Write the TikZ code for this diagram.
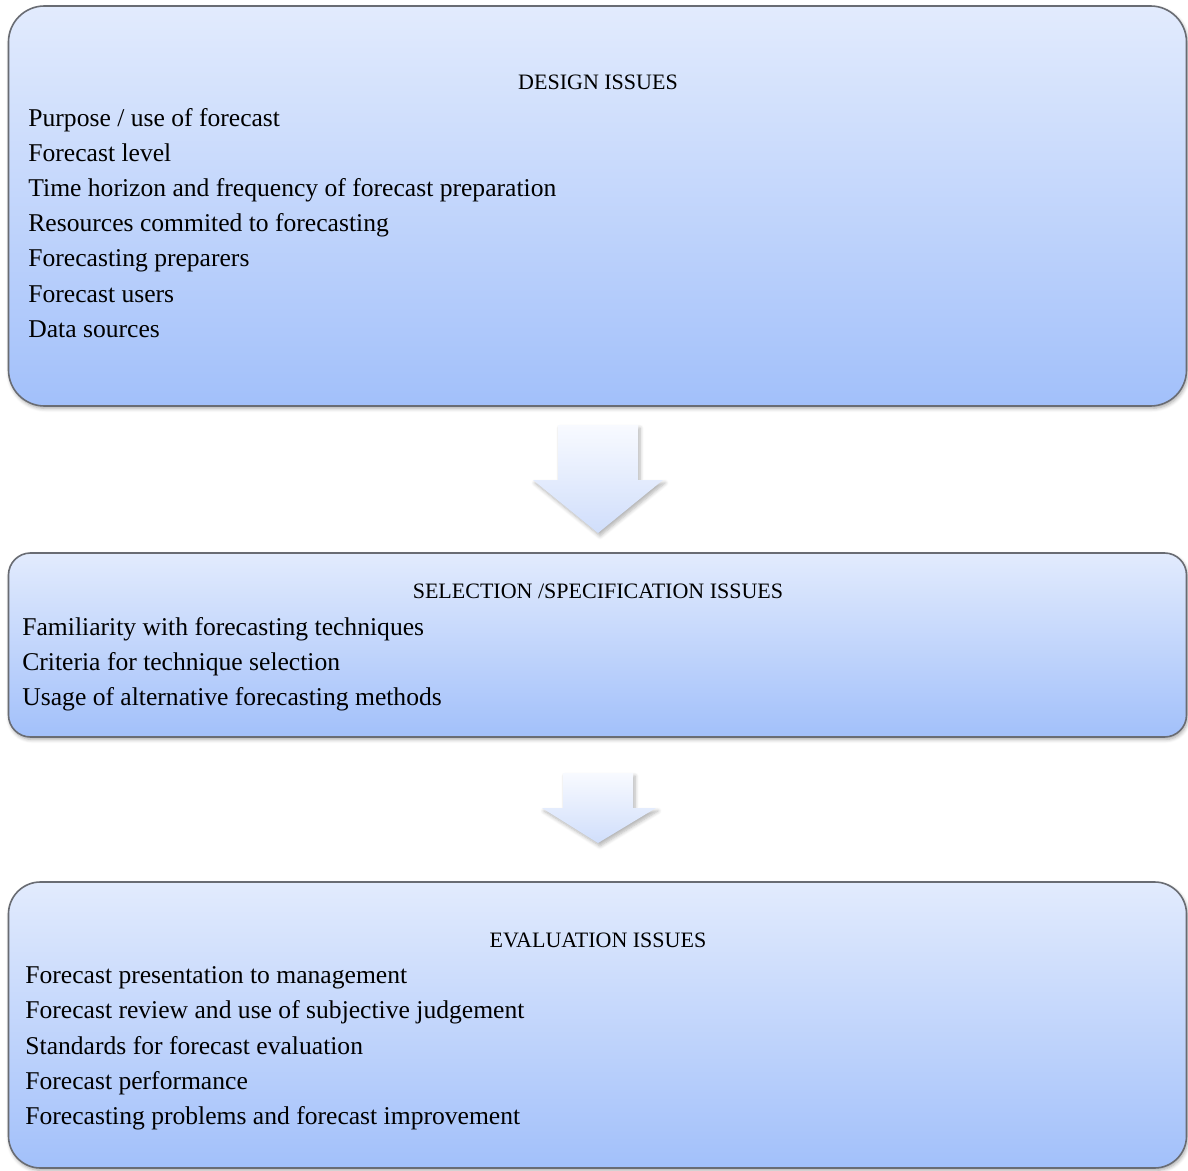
\documentclass[tikz,border=0pt]{standalone}
\usepackage{fontspec}
\setmainfont{Liberation Serif}
\usetikzlibrary{shadows.blur}
\definecolor{boxtop}{RGB}{226,235,253}
\definecolor{boxbot}{RGB}{162,192,250}
\definecolor{boxline}{RGB}{105,108,115}
\definecolor{arrtop}{RGB}{248,250,255}
\definecolor{arrbot}{RGB}{208,222,251}
\tikzset{
  issuebox/.style={draw=boxline, line width=0.8pt, top color=boxtop, bottom color=boxbot,
    blur shadow={shadow xshift=0.6pt, shadow yshift=-1.2pt, shadow blur steps=5, shadow opacity=35},
    inner sep=0pt},
  heading/.style={font=\fontsize{11}{13}\selectfont, inner sep=0pt, anchor=base},
  item/.style={font=\fontsize{12.8}{14}\selectfont, inner sep=0pt, anchor=base west},
  blockarrow/.style={top color=arrtop, bottom color=arrbot, draw=none,
    blur shadow={shadow xshift=1pt, shadow yshift=-1.5pt, shadow blur steps=6, shadow opacity=30}}
}
\begin{document}
\begin{tikzpicture}[x=0.5pt, y=-0.5pt]
\useasboundingbox (0,0) rectangle (1188,1171);

% three stages
\node[issuebox, rounded corners=18pt, minimum width=589pt, minimum height=200pt] (design) at (597.5,206) {};
\node[issuebox, rounded corners=11pt, minimum width=589pt, minimum height=92pt] (selection) at (597.5,645) {};
\node[issuebox, rounded corners=16pt, minimum width=589pt, minimum height=143pt] (evaluation) at (597.5,1025) {};

% block arrows between stages
\path[blockarrow] (558,425) coordinate (a1) -- (638,425) -- (638,480) -- (663,480)
  -- (598,533) coordinate (a1tip) -- (533,480) -- (558,480) -- cycle;
\path[blockarrow] (563,773) coordinate (a2) -- (633,773) -- (633,808) -- (656,808)
  -- (598,843) coordinate (a2tip) -- (542,808) -- (563,808) -- cycle;

% design issues
\node[heading] (dh) at (598,90) {DESIGN ISSUES};
\node[item] (d1) at (28,127) {Purpose / use of forecast};
\node[item] (d2) at (28,162) {Forecast level};
\node[item] (d3) at (28,197) {Time horizon and frequency of forecast preparation};
\node[item] (d4) at (28,232) {Resources commited to forecasting};
\node[item] (d5) at (28,267) {Forecasting preparers};
\node[item] (d6) at (28,303) {Forecast users};
\node[item] (d7) at (28,338) {Data sources};

% selection / specification issues
\node[heading] (sh) at (598,598) {SELECTION /SPECIFICATION ISSUES};
\node[item] (s1) at (22,635) {Familiarity with forecasting techniques};
\node[item] (s2) at (22,670) {Criteria for technique selection};
\node[item] (s3) at (22,705) {Usage of alternative forecasting methods};

% evaluation issues
\node[heading] (eh) at (598,947) {EVALUATION ISSUES};
\node[item] (e1) at (25,983) {Forecast presentation to management};
\node[item] (e2) at (25,1018) {Forecast review and use of subjective judgement};
\node[item] (e3) at (25,1054) {Standards for forecast evaluation};
\node[item] (e4) at (25,1089) {Forecast performance};
\node[item] (e5) at (25,1124) {Forecasting problems and forecast improvement};
\end{tikzpicture}
\end{document}
